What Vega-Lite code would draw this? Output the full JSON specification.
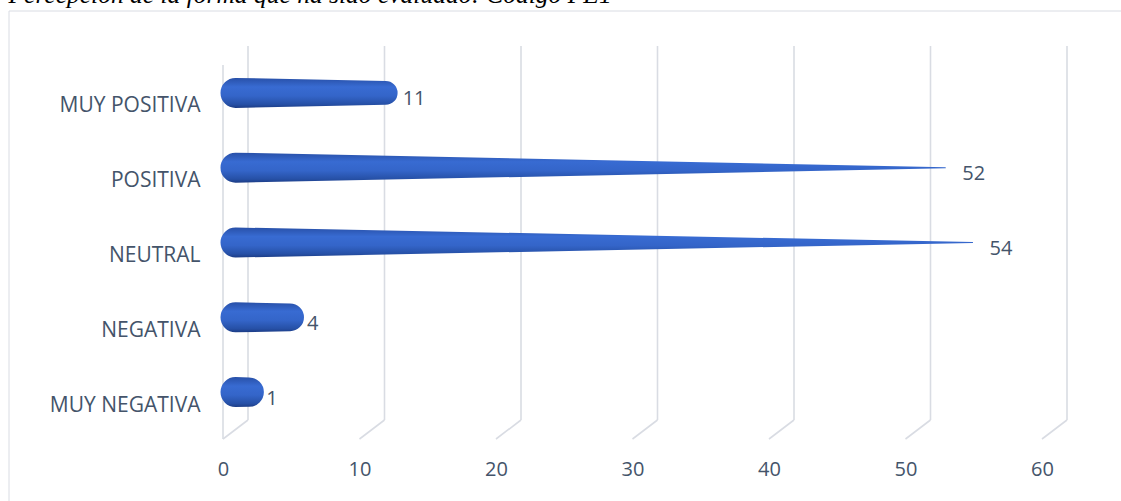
{
  "$schema": "https://vega.github.io/schema/vega-lite/v6.json",
  "width": 1112.5,
  "height": 490.5,
  "autosize": "none",
  "padding": {"left": 8.5, "top": 10.5, "right": 0, "bottom": 0},
  "background": "white",
  "title": {
    "text": "Percepción de la forma que ha sido evaluado: Código PE1",
    "font": "Liberation Serif",
    "fontStyle": "italic",
    "fontWeight": "normal",
    "fontSize": 25.5,
    "color": "#000000",
    "anchor": "start",
    "frame": "group",
    "baseline": "alphabetic",
    "offset": -17.5
  },
  "config": {
    "view": {"stroke": "#d9dce3", "strokeWidth": 1},
    "font": "Open Sans"
  },
  "datasets": {
    "respuestas": [
      {"categoria": "MUY POSITIVA", "frecuencia": 11},
      {"categoria": "POSITIVA", "frecuencia": 52},
      {"categoria": "NEUTRAL", "frecuencia": 54},
      {"categoria": "NEGATIVA", "frecuencia": 4},
      {"categoria": "MUY NEGATIVA", "frecuencia": 1}
    ],
    "marcas": [
      {"v": 0}, {"v": 10}, {"v": 20}, {"v": 30}, {"v": 40}, {"v": 50}, {"v": 60}
    ]
  },
  "layer": [
    {
      "data": {"name": "marcas"},
      "mark": {"type": "rule", "color": "#d9dce3", "strokeWidth": 1.6},
      "encoding": {
        "x": {
          "field": "v",
          "type": "quantitative",
          "scale": {"domain": [0, 60], "range": [239.5, 1058.5], "nice": false, "zero": false},
          "axis": {
            "values": [0, 10, 20, 30, 40, 50, 60],
            "grid": false,
            "domain": false,
            "ticks": false,
            "title": null,
            "labelFlush": false,
            "labelOffset": -25,
            "offset": -43.5,
            "labelPadding": 2,
            "labelFont": "Open Sans",
            "labelFontSize": 20,
            "labelColor": "#44546a"
          }
        },
        "y": {
          "datum": "MUY POSITIVA",
          "type": "nominal",
          "bandPosition": 0,
          "scale": {
            "domain": ["MUY POSITIVA", "POSITIVA", "NEUTRAL", "NEGATIVA", "MUY NEGATIVA"],
            "range": [35.5, 409.5],
            "paddingInner": 0,
            "paddingOuter": 0
          },
          "axis": {
            "title": null,
            "domain": false,
            "ticks": false,
            "grid": false,
            "offset": -191.5,
            "labelPadding": 0,
            "labelOffset": 23,
            "labelFont": "Open Sans",
            "labelFontSize": 21,
            "labelColor": "#44546a"
          }
        },
        "y2": {"datum": "MUY NEGATIVA", "bandPosition": 1}
      }
    },
    {
      "data": {"name": "marcas"},
      "mark": {"type": "rule", "color": "#d9dce3", "strokeWidth": 1.6, "x2Offset": -25, "y2Offset": 19},
      "encoding": {
        "x": {"field": "v", "type": "quantitative"},
        "x2": {"field": "v"},
        "y": {"datum": "MUY NEGATIVA", "type": "nominal", "bandPosition": 1},
        "y2": {"datum": "MUY NEGATIVA", "bandPosition": 1}
      }
    },
    {
      "data": {"name": "marcas"},
      "transform": [{"filter": "datum.v === 0"}],
      "mark": {"type": "rule", "color": "#d9dce3", "strokeWidth": 1.6, "xOffset": -25, "yOffset": 19, "y2Offset": 19},
      "encoding": {
        "x": {"field": "v", "type": "quantitative"},
        "y": {"datum": "MUY POSITIVA", "type": "nominal", "bandPosition": 0},
        "y2": {"datum": "MUY NEGATIVA", "bandPosition": 1}
      }
    },
    {
      "data": {"name": "respuestas"},
      "transform": [
        {"calculate": "0", "as": "inicio"},
        {"fold": ["inicio", "frecuencia"], "as": ["extremo", "valor"]}
      ],
      "mark": {
        "type": "trail",
        "xOffset": -12.5,
        "yOffset": 9.5,
        "color": {
          "gradient": "linear",
          "x1": 0, "y1": 0, "x2": 0, "y2": 1,
          "stops": [
            {"offset": 0, "color": "#2850a8"},
            {"offset": 0.3, "color": "#386bd2"},
            {"offset": 0.6, "color": "#3465c9"},
            {"offset": 0.88, "color": "#2650a6"},
            {"offset": 1, "color": "#1c3c85"}
          ]
        }
      },
      "encoding": {
        "x": {"field": "valor", "type": "quantitative"},
        "y": {"field": "categoria", "type": "nominal"},
        "detail": {"field": "categoria"},
        "size": {
          "field": "valor",
          "type": "quantitative",
          "scale": {"domain": [0, 54], "range": [30, 0], "zero": false, "nice": false},
          "legend": null
        }
      }
    },
    {
      "data": {"name": "respuestas"},
      "mark": {
        "type": "text",
        "align": "left",
        "baseline": "middle",
        "dx": 4.5,
        "dy": 16,
        "font": "Open Sans",
        "fontSize": 20,
        "color": "#44546a"
      },
      "encoding": {
        "x": {"field": "frecuencia", "type": "quantitative"},
        "y": {"field": "categoria", "type": "nominal"},
        "text": {"field": "frecuencia", "type": "quantitative"}
      }
    }
  ]
}
